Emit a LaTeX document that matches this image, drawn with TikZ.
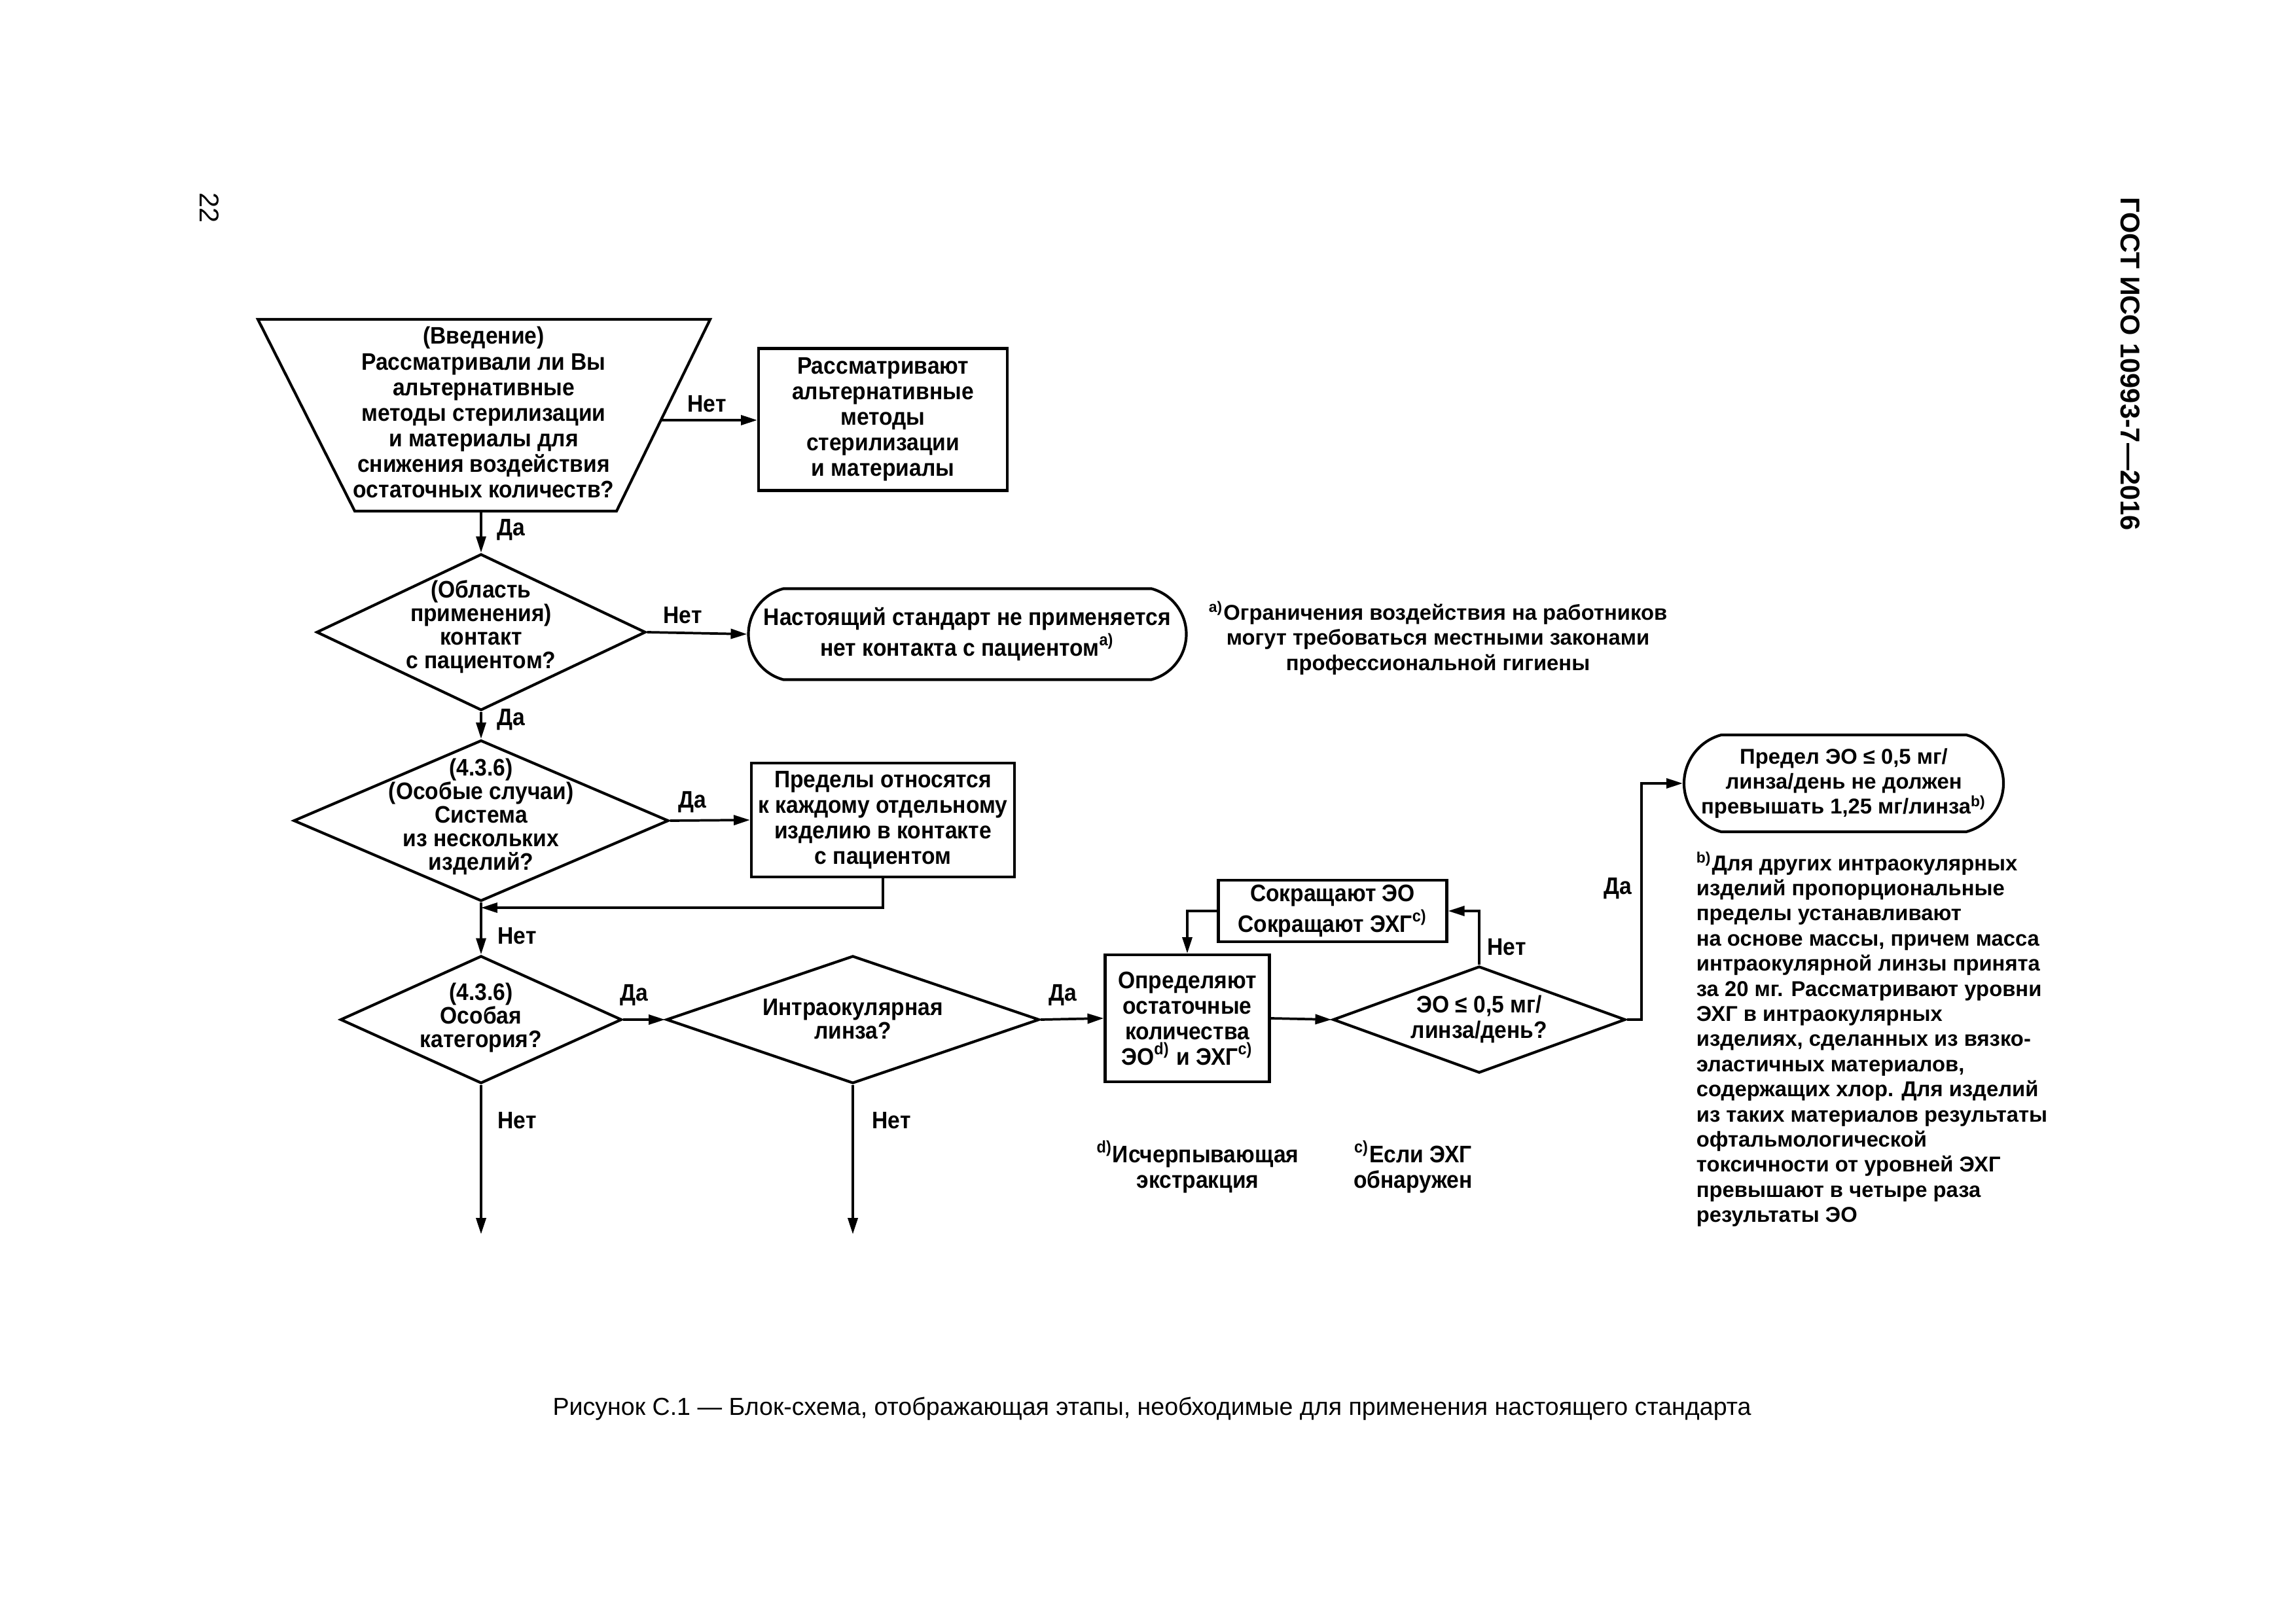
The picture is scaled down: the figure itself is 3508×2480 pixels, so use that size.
\documentclass[tikz,border=0pt]{standalone}
\usepackage{fontspec}
\setmainfont{Liberation Sans}
\newfontfamily\dfont[FakeStretch=0.92]{Liberation Sans}
\usetikzlibrary{shapes.geometric,shapes.misc,arrows.meta}
\def\PX{0.2409pt}
\begin{document}
\begin{tikzpicture}[x=0.2409pt,y=-0.2409pt,
  dtext/.style={font={\dfont\bfseries\fontsize{8.8}{9.4}\selectfont},align=center,inner sep=0pt},
  ddtext/.style={font={\dfont\bfseries\fontsize{8.8}{8.65}\selectfont},align=center,inner sep=0pt},
  ftext/.style={font={\bfseries\fontsize{7.9}{9.25}\selectfont},inner sep=0pt},
  shp/.style={draw,line width=1pt,inner sep=0pt},
  boxs/.style={shp,rectangle,dtext,draw},
  dia/.style={draw,line width=1pt,diamond,inner sep=0.5pt},
  stadium/.style={shp,rounded rectangle,rounded rectangle arc length=150},
  arr/.style={line width=0.9pt,-{Triangle[length=6pt,width=3.6pt]}},
  ln/.style={line width=0.9pt}]
\useasboundingbox (0,0) rectangle (3508,2480);
\fill[white] (0,0) rectangle (3508,2480);

% header and page number
\node[font={\bfseries\fontsize{10}{12}\selectfont},rotate=-90,inner sep=0pt] (hdr) at (3255,556) {ГОСТ ИСО 10993-7—2016};
\node[font={\fontsize{10}{12}\selectfont},rotate=-90,inner sep=0pt] (pg) at (320,318) {22};

% intro trapezoid
\draw[line width=1pt,line join=miter] (394,488) -- (1085,488) -- (942,781) -- (542,781) -- cycle;
\coordinate (intro-s) at (735,781);
\coordinate (intro-e) at (1010,642);
\node[dtext] (introtxt) at (739,630) {(Введение)\\Рассматривали ли Вы\\альтернативные\\методы стерилизации\\и материалы для\\снижения воздействия\\остаточных количеств?};

\node[boxs,minimum width=380*\PX,minimum height=217*\PX] (alt) at (1349,641) {Рассматривают\\альтернативные\\методы\\стерилизации\\и материалы};
\draw[arr] (intro-e) -- (alt.west |- intro-e);
\node[dtext] (l1) at (1080,617) {Нет};

% diamond 1
\node[dia,minimum width=503*\PX,minimum height=239*\PX] (d1) at (735,966) {};
\node[ddtext] (d1t) at (735,958) {(Область\\применения)\\контакт\\с пациентом?};
\draw[arr] (intro-s) -- (d1.north);
\node[dtext] (l2) at (781,810) {Да};

\node[stadium,minimum width=669*\PX,minimum height=139*\PX,dtext] (stop1) at (1478,969) {Настоящий стандарт не применяется\\нет контакта с пациентом\textsuperscript{a)}};
\draw[arr] (d1.east) -- (stop1.west);
\node[dtext] (l3) at (1043,940) {Нет};

\node[ftext,align=center] (fna) at (2197,975) {\textsuperscript{a)}Ограничения воздействия на работников\\могут требоваться местными законами\\профессиональной гигиены};

% diamond 2
\node[dia,minimum width=573*\PX,minimum height=246*\PX] (d2) at (735,1254) {};
\node[ddtext] (d2t) at (735,1248) {(4.3.6)\\(Особые случаи)\\Система\\из нескольких\\изделий?};
\draw[arr] (d1.south) -- (d2.north);
\node[dtext] (l4) at (781,1100) {Да};

\node[boxs,minimum width=402*\PX,minimum height=174*\PX] (lim) at (1349,1253) {Пределы относятся\\к каждому отдельному\\изделию в контакте\\с пациентом};
\draw[arr] (d2.east) -- (lim.west);
\node[dtext] (l5) at (1058,1226) {Да};
\coordinate (j1) at (735,1387);
\draw[arr] (lim.south) |- (j1);

% diamond 3
\node[dia,minimum width=430*\PX,minimum height=195*\PX] (d3) at (735,1558) {};
\node[ddtext] (d3t) at (735,1555) {(4.3.6)\\Особая\\категория?};
\draw[arr] (d2.south) -- (d3.north);
\node[dtext] (l6) at (790,1430) {Нет};

% diamond 4
\node[dia,minimum width=570*\PX,minimum height=195*\PX] (d4) at (1303,1558) {};
\node[ddtext] (d4t) at (1303,1557) {Интраокулярная\\линза?};
\draw[arr] (d3.east) -- (d4.west);
\node[dtext] (l7) at (969,1521) {Да};

% determine box
\node[boxs,minimum width=251*\PX,minimum height=194*\PX] (det) at (1814,1556) {Определяют\\остаточные\\количества\\ЭО\textsuperscript{d)} и ЭХГ\textsuperscript{c)}};
\draw[arr] (d4.east) -- (det.west);
\node[dtext] (l8) at (1624,1521) {Да};

% diamond 5
\node[dia,minimum width=447*\PX,minimum height=163*\PX] (d5) at (2260,1558) {};
\node[dtext] (d5t) at (2260,1557) {ЭО ≤ 0,5 мг/\\линза/день?};
\draw[arr] (det.east) -- (d5.west);

% reduce box
\node[boxs,minimum width=349*\PX,minimum height=94*\PX] (red) at (2036,1392) {Сокращают ЭО\\Сокращают ЭХГ\textsuperscript{c)}};
\draw[arr] (d5.north) |- (red.east);
\node[dtext] (l9) at (2302,1447) {Нет};
\draw[arr] (red.west) -| (det.north);

% yes to limit
\node[stadium,minimum width=488*\PX,minimum height=148*\PX,ftext,align=center] (stop2) at (2817,1197) {Предел ЭО ≤ 0,5 мг/\\линза/день не должен\\превышать 1,25 мг/линза\textsuperscript{b)}};
\coordinate (j2) at (2508,1558);
\draw[arr] (d5.east) -- (j2) |- (stop2.west);
\node[dtext] (l10) at (2472,1358) {Да};

\node[ftext,align=left,anchor=north west] (fnb) at (2591,1301) {\textsuperscript{b)}Для других интраокулярных\\изделий пропорциональные\\пределы устанавливают\\на основе массы, причем масса\\интраокулярной линзы принята\\за 20 мг. Рассматривают уровни\\ЭХГ в интраокулярных\\изделиях, сделанных из вязко-\\эластичных материалов,\\содержащих хлор. Для изделий\\из таких материалов результаты\\офтальмологической\\токсичности от уровней ЭХГ\\превышают в четыре раза\\результаты ЭО};

% footnotes d, c
\node[dtext] (fnd) at (1830,1783) {\textsuperscript{d)}Исчерпывающая\\экстракция};
\node[dtext] (fnc) at (2159,1783) {\textsuperscript{c)}Если ЭХГ\\обнаружен};

% bottom exits
\coordinate (e1) at (735,1886);
\coordinate (e2) at (1303,1886);
\draw[arr] (d3.south) -- (e1);
\draw[arr] (d4.south) -- (e2);
\node[dtext] (l11) at (790,1712) {Нет};
\node[dtext] (l12) at (1362,1712) {Нет};

% caption
\node[font={\fontsize{9.05}{11}\selectfont},inner sep=0pt] (cap) at (1760,2153) {Рисунок С.1 — Блок-схема, отображающая этапы, необходимые для применения настоящего стандарта};
\end{tikzpicture}
\end{document}
